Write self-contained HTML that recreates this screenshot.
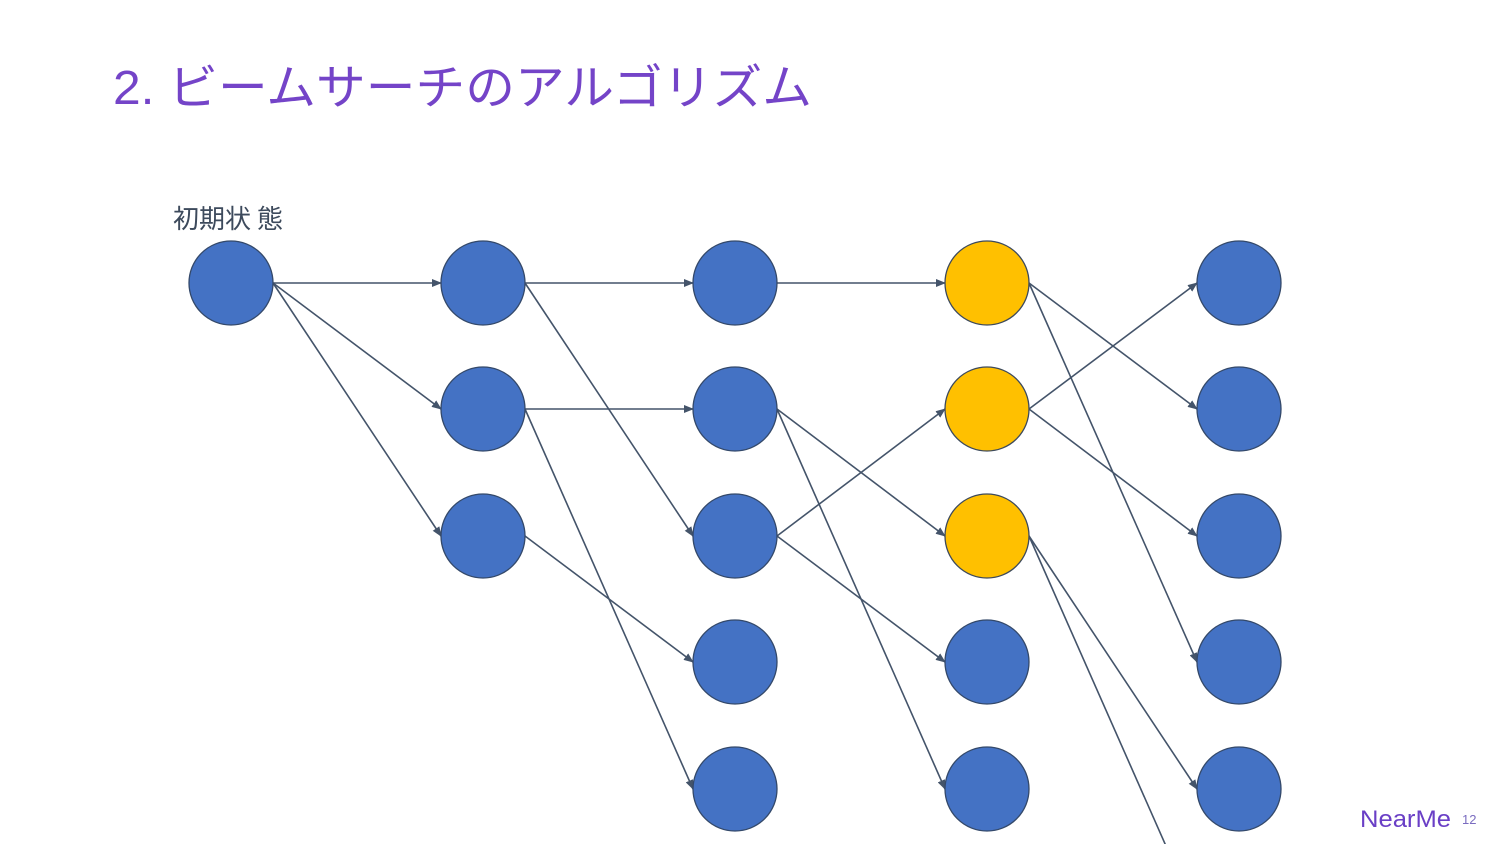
<!DOCTYPE html>
<html><head><meta charset="utf-8"><style>
html,body{margin:0;padding:0;background:#fff;width:1500px;height:844px;overflow:hidden}
</style></head><body>
<svg width="1500" height="844" viewBox="0 0 1500 844" xmlns="http://www.w3.org/2000/svg">
<defs><marker id="a" markerWidth="10" markerHeight="8" refX="9" refY="4" orient="auto" markerUnits="userSpaceOnUse"><path d="M0,0 L10,4 L0,8 z" fill="#44546a"/></marker></defs>
<text x="113" y="104" font-family="'Liberation Sans','Noto Sans CJK JP',sans-serif" font-size="48" fill="#7444c8" textLength="699" lengthAdjust="spacingAndGlyphs">2. ビームサーチのアルゴリズム</text>
<text x="173" y="228" font-family="'Liberation Sans','Noto Sans CJK JP',sans-serif" font-size="26" fill="#3d4a5c">初期状<tspan dx="6">態</tspan></text>
<g stroke="#44546a" stroke-width="1.6" fill="none" marker-end="url(#a)">
<line x1="273" y1="283" x2="441" y2="283"/>
<line x1="273" y1="283" x2="441" y2="409"/>
<line x1="273" y1="283" x2="441" y2="536"/>
<line x1="525" y1="283" x2="693" y2="283"/>
<line x1="525" y1="283" x2="693" y2="536"/>
<line x1="525" y1="409" x2="693" y2="409"/>
<line x1="525" y1="409" x2="693" y2="789"/>
<line x1="525" y1="536" x2="693" y2="662"/>
<line x1="777" y1="283" x2="945" y2="283"/>
<line x1="777" y1="409" x2="945" y2="536"/>
<line x1="777" y1="409" x2="945" y2="789"/>
<line x1="777" y1="536" x2="945" y2="409"/>
<line x1="777" y1="536" x2="945" y2="662"/>
<line x1="1029" y1="283" x2="1197" y2="409"/>
<line x1="1029" y1="283" x2="1197" y2="662"/>
<line x1="1029" y1="409" x2="1197" y2="283"/>
<line x1="1029" y1="409" x2="1197" y2="536"/>
<line x1="1029" y1="536" x2="1197" y2="789"/>
</g>
<line x1="1029" y1="536" x2="1166" y2="846" stroke="#44546a" stroke-width="1.6"/>
<g stroke="#34496a" stroke-width="1.3" fill="#4472c4">
<circle cx="231" cy="283" r="42"/>
<circle cx="483" cy="283" r="42"/><circle cx="483" cy="409" r="42"/><circle cx="483" cy="536" r="42"/>
<circle cx="735" cy="283" r="42"/><circle cx="735" cy="409" r="42"/><circle cx="735" cy="536" r="42"/><circle cx="735" cy="662" r="42"/><circle cx="735" cy="789" r="42"/>
<circle cx="987" cy="662" r="42"/><circle cx="987" cy="789" r="42"/>
<circle cx="1239" cy="283" r="42"/><circle cx="1239" cy="409" r="42"/><circle cx="1239" cy="536" r="42"/><circle cx="1239" cy="662" r="42"/><circle cx="1239" cy="789" r="42"/>
</g>
<g stroke="#3d4a5c" stroke-width="1.3" fill="#ffc000">
<circle cx="987" cy="283" r="42"/><circle cx="987" cy="409" r="42"/><circle cx="987" cy="536" r="42"/>
</g>
<text x="1360" y="827" font-family="'Liberation Sans',sans-serif" font-size="24" fill="#6a3fc6" textLength="91" lengthAdjust="spacingAndGlyphs">NearMe</text>
<text x="1462" y="824" font-family="'Liberation Sans',sans-serif" font-size="13" fill="#7a6cc0">12</text>
</svg>
</body></html>
